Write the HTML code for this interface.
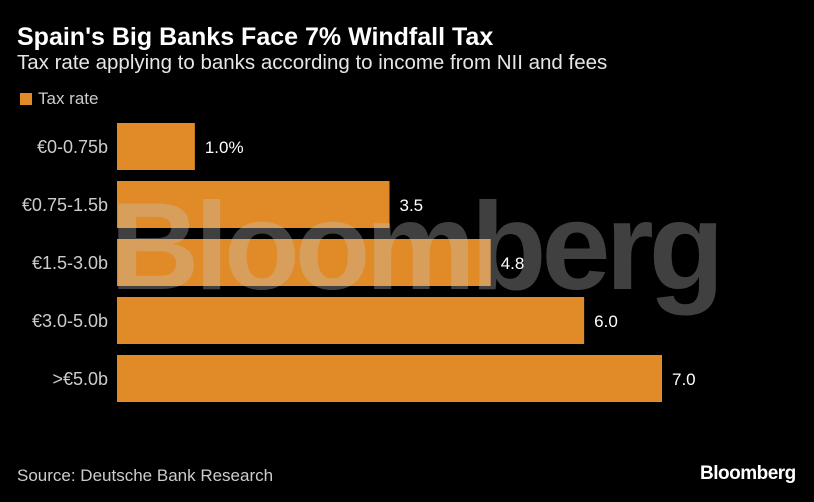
<!DOCTYPE html>
<html><head><meta charset="utf-8"><style>
body{margin:0;background:#000;width:814px;height:502px;overflow:hidden;font-family:"Liberation Sans","DejaVu Sans",sans-serif;color:#fff;position:relative}
.t{position:absolute;white-space:nowrap}
</style></head><body>
<div class="t" style="left:17px;top:23px;font-size:25px;font-weight:bold">Spain's Big Banks Face 7% Windfall Tax</div>
<div class="t" style="left:17px;top:51px;font-size:20.5px;color:#e6e6e6">Tax rate applying to banks according to income from NII and fees</div>
<div class="t" style="left:20px;top:89px;font-size:17px;color:#ccc"><span style="display:inline-block;width:12px;height:12px;background:#e08b28;margin-right:6px;vertical-align:-1px"></span>Tax rate</div>
<svg id="chart" width="814" height="502" style="position:absolute;left:0;top:0"></svg>
<div class="t" style="left:110px;top:176px;font-size:124px;font-weight:bold;color:rgba(200,200,200,0.32);letter-spacing:-5px">Bloomberg</div>
<div class="t" style="left:17px;top:466px;font-size:17px;color:#ccc">Source: Deutsche Bank Research</div>
<div class="t" style="left:700px;top:463px;font-size:19px;font-weight:bold;letter-spacing:-0.5px">Bloomberg</div>
<script>
const categories=["€0-0.75b","€0.75-1.5b","€1.5-3.0b","€3.0-5.0b",">€5.0b"];
const values=[1.0,3.5,4.8,6.0,7.0];
const valueLabels=["1.0%","3.5","4.8","6.0","7.0"];
const svg=document.getElementById('chart');
const NS='http://www.w3.org/2000/svg';
const x0=117,unit=(662-117)/7;
function xs(v){return x0+v*unit;}
function ys(i){return 123+i*58;}
categories.forEach((c,i)=>{
 const r=document.createElementNS(NS,'rect');
 r.setAttribute('x',x0);r.setAttribute('y',ys(i));r.setAttribute('width',xs(values[i])-x0);r.setAttribute('height',47);r.setAttribute('fill','#e08b28');
 
 
 svg.appendChild(r);
 const l=document.createElementNS(NS,'text');
 l.setAttribute('x',108);l.setAttribute('y',ys(i)+30);l.setAttribute('text-anchor','end');l.setAttribute('fill','#ccc');l.setAttribute('font-size','18');l.textContent=c;
 
 
 svg.appendChild(l);
 const v=document.createElementNS(NS,'text');
 v.setAttribute('x',xs(values[i])+10);v.setAttribute('y',ys(i)+30);v.setAttribute('fill','#fff');v.setAttribute('font-size','17');v.textContent=valueLabels[i];
 
 
 svg.appendChild(v);
});
</script>
</body></html>
